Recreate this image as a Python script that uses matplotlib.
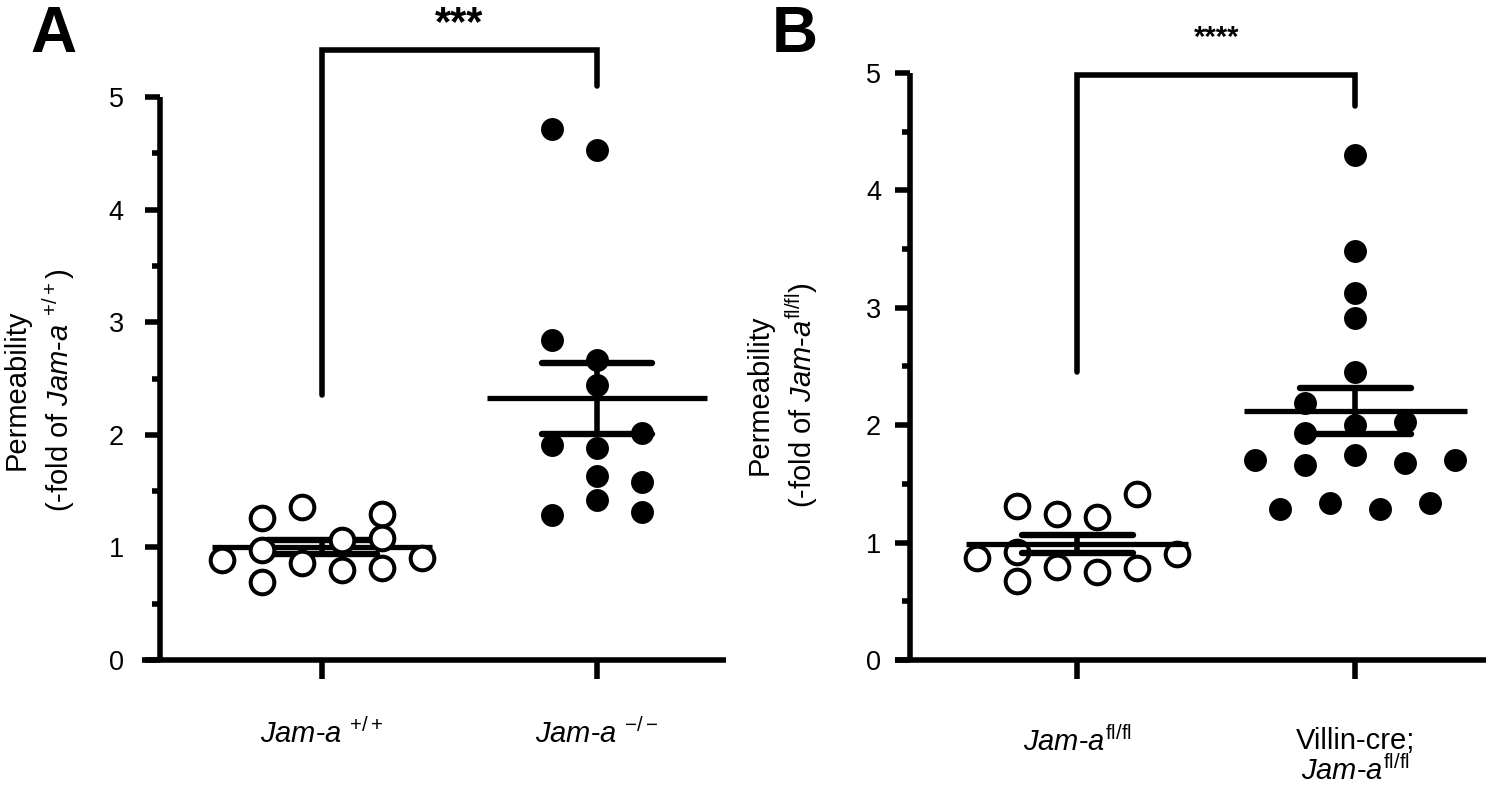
import numpy as np
import matplotlib
matplotlib.use("Agg")
import matplotlib.pyplot as plt
from matplotlib.ticker import MultipleLocator

plt.rcParams['font.family'] = ['Liberation Sans', 'DejaVu Sans']
plt.rcParams['mathtext.fontset'] = 'custom'
plt.rcParams['mathtext.rm'] = 'Liberation Sans'
plt.rcParams['mathtext.it'] = 'Liberation Sans:italic'
plt.rcParams['mathtext.bf'] = 'Liberation Sans:bold'
plt.rcParams['mathtext.sf'] = 'Liberation Sans'

# ---------------- data ----------------
# Panel A
a_labels = [r"$\mathit{Jam}$-$\mathit{a}$ $^{+/+}$", r"$\mathit{Jam}$-$\mathit{a}$ $^{-/-}$"]
a_wt = [0.89, 1.26, 0.98, 0.69, 1.36, 0.86, 1.07, 0.80, 1.30, 1.08, 0.82, 0.91]
a_wt_slot = [-2.5, -1.5, -1.5, -1.5, -0.5, -0.5, 0.5, 0.5, 1.5, 1.5, 1.5, 2.5]
a_ko = [4.72, 4.53, 2.84, 2.66, 2.44, 2.02, 1.91, 1.88, 1.63, 1.58, 1.42, 1.29, 1.31]
a_ko_slot = [-1, 0, -1, 0, 0, 1, -1, 0, 0, 1, 0, -1, 1]
a_sig = "***"
a_ylabel = "Permeability\n(-fold of $\\mathit{Jam}$-$\\mathit{a}$ $^{+/+}$)"

# Panel B
b_labels = [r"$\mathit{Jam}$-$\mathit{a}^{\mathrm{fl/fl}}$",
            "Villin-cre;\n" + r"$\mathit{Jam}$-$\mathit{a}^{\mathrm{fl/fl}}$"]
b_ctrl = [0.87, 1.31, 0.92, 0.67, 1.24, 0.79, 1.22, 0.75, 1.41, 0.78, 0.90]
b_ctrl_slot = [-2.5, -1.5, -1.5, -1.5, -0.5, -0.5, 0.5, 0.5, 1.5, 1.5, 2.5]
b_cko = [4.30, 3.48, 3.13, 2.91, 2.45, 2.19, 2.00, 2.03, 1.93, 1.75, 1.70, 1.66,
         1.68, 1.70, 1.29, 1.34, 1.29, 1.34]
b_cko_slot = [0, 0, 0, 0, 0, -2, 0, 2, -2, 0, -4, -2, 2, 4, -3, -1, 1, 3]
b_sig = "****"
b_ylabel = "Permeability\n(-fold of $\\mathit{Jam}$-$\\mathit{a}^{\\mathrm{fl/fl}}$)"

# ---------------- figure ----------------
W, H = 1500, 794
fig = plt.figure(figsize=(W / 100, H / 100), dpi=100)
axA = fig.add_axes([142 / W, (H - 660) / H, (726 - 142) / W, (660 - 97) / H])
axB = fig.add_axes([895 / W, (H - 660) / H, (1486 - 895) / W, (660 - 73) / H])

LW = 4.0


def setup(ax, spine_x, labels, ypad, xpad):
    ax.set_xlim(-0.655, 1.47)
    ax.set_ylim(0, 5)
    ax.patch.set_visible(False)
    for s in ['top', 'right']:
        ax.spines[s].set_visible(False)
    ax.spines['left'].set_position(('data', spine_x))
    ax.spines['left'].set_bounds(0, 5)
    for s in ['left', 'bottom']:
        ax.spines[s].set_linewidth(LW)
        ax.spines[s].set_capstyle('butt')
    ax.yaxis.set_major_locator(MultipleLocator(1))
    ax.yaxis.set_minor_locator(MultipleLocator(0.5))
    ax.tick_params(axis='y', which='major', length=11, width=LW, labelsize=19.5, pad=ypad)
    ax.tick_params(axis='y', which='minor', length=6, width=LW)
    ax.set_xticks([0, 1])
    ax.set_xticklabels(labels, linespacing=1.05)
    ax.tick_params(axis='x', length=14, width=LW, labelsize=21, pad=xpad)


def draw_group(ax, x0, vals, slots, step, filled, zpts):
    vals = np.asarray(vals, dtype=float)
    xs = x0 + np.asarray(slots, dtype=float) * step
    if filled:
        ax.plot(xs, vals, 'o', ms=16.5, mfc='black', mec='black', mew=0,
                clip_on=False, zorder=zpts)
    else:
        ax.plot(xs, vals, 'o', ms=17, mfc='white', mec='black', mew=2.9,
                clip_on=False, zorder=zpts)
    m = vals.mean()
    sem = vals.std(ddof=1) / np.sqrt(len(vals))
    ax.plot([x0 - 0.4, x0 + 0.4], [m, m], color='black', lw=3.8,
            solid_capstyle='butt', zorder=3)
    for yy in (m - sem, m + sem):
        ax.plot([x0 - 0.2, x0 + 0.2], [yy, yy], color='black', lw=4.6,
                solid_capstyle='round', zorder=3)
    ax.plot([x0, x0], [m - sem, m + sem], color='black', lw=4.0,
            solid_capstyle='butt', zorder=3)


def bracket(ax, y_left, y_top, y_right, text, fs, y_text):
    ax.plot([0, 0, 1, 1], [y_left, y_top, y_top, y_right], color='black', lw=LW,
            solid_joinstyle='miter', solid_capstyle='round', clip_on=False, zorder=3)
    ax.text(0.5, y_text, text, ha='center', va='baseline', fontsize=fs,
            fontweight='bold', clip_on=False)


setup(axA, -0.59, a_labels, 15, 28)
setup(axB, -0.60, b_labels, 10, 34)

draw_group(axA, 0, a_wt, a_wt_slot, 0.145, False, 4)
draw_group(axA, 1, a_ko, a_ko_slot, 0.164, True, 4)
draw_group(axB, 0, b_ctrl, b_ctrl_slot, 0.144, False, 2)
draw_group(axB, 1, b_cko, b_cko_slot, 0.09, True, 2)

bracket(axA, 2.35, 5.42, 5.10, a_sig, 30, 5.55)
bracket(axB, 2.45, 4.98, 4.72, b_sig, 21, 5.23)

fig.text(40 / W, 1 - 390 / H, a_ylabel, rotation=90, ha='center', va='center',
         multialignment='center', fontsize=21, linespacing=1.35)
fig.text(783 / W, 1 - 395 / H, b_ylabel, rotation=90, ha='center', va='center',
         multialignment='center', fontsize=21, linespacing=1.35)

fig.text(30 / W, 1 - 52 / H, "A", fontsize=46, fontweight='bold', ha='left', va='baseline')
fig.text(772 / W, 1 - 52 / H, "B", fontsize=46, fontweight='bold', ha='left', va='baseline')

fig.savefig("out.png", dpi=100)
